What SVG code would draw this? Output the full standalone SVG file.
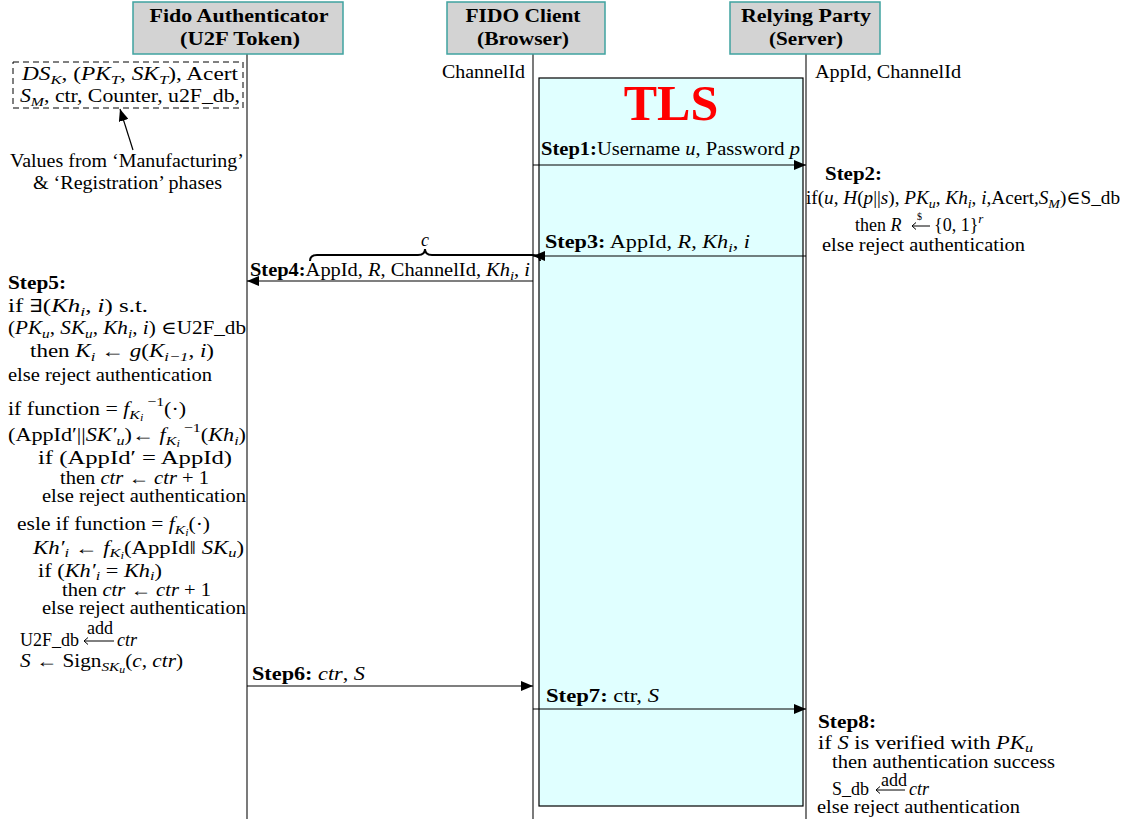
<svg xmlns="http://www.w3.org/2000/svg" width="1129" height="819" viewBox="0 0 1129 819">
<style>
.t{font-family:"Liberation Serif","DejaVu Serif",serif;font-size:18px;fill:#000}
.b{font-weight:bold}
.i{font-style:italic}
.s{font-size:13px}
.ss{font-size:10px}
.hd{font-family:"Liberation Serif","DejaVu Serif",serif;font-size:18px;font-weight:bold;text-anchor:middle}
.hbox{fill:#d3d3d3;stroke:#3fa3a0;stroke-width:1.5}
.life{stroke:#222;stroke-width:1.2}
.msg{stroke:#000;stroke-width:1.2;fill:none}
.la{stroke:#000;stroke-width:1;fill:none}
</style>
<defs>
<marker id="ah" viewBox="0 0 12 10" refX="12" refY="5" markerWidth="12" markerHeight="10" markerUnits="userSpaceOnUse" orient="auto">
<path d="M0,0 L12,5 L0,10 z" fill="#000"/>
</marker>
</defs>
<rect width="1129" height="819" fill="#fff"/>

<g id="tls">
<rect x="539" y="78" width="264" height="728" fill="#e0ffff" stroke="#000" stroke-width="1.2"/>
<text x="671" y="120" font-family="Liberation Serif, serif" font-size="50" font-weight="bold" fill="#ff0000" text-anchor="middle">TLS</text>
</g>

<g id="lifelines">
<line class="life" x1="247" y1="54" x2="247" y2="819"/>
<line class="life" x1="533" y1="54" x2="533" y2="819"/>
<line class="life" x1="806" y1="54" x2="806" y2="819"/>
</g>

<g id="authenticator">
<rect class="hbox" x="133" y="2" width="210" height="52"/>
<text class="hd" x="239" y="22" textLength="179" lengthAdjust="spacingAndGlyphs">Fido Authenticator</text>
<text class="hd" x="240" y="45" textLength="120" lengthAdjust="spacingAndGlyphs">(U2F Token)</text>
</g>
<g id="client">
<rect class="hbox" x="447" y="2" width="158" height="52"/>
<text class="hd" x="523" y="22" textLength="115" lengthAdjust="spacingAndGlyphs">FIDO Client</text>
<text class="hd" x="523" y="45" textLength="92" lengthAdjust="spacingAndGlyphs">(Browser)</text>
</g>
<g id="server">
<rect class="hbox" x="730" y="2" width="150" height="52"/>
<text class="hd" x="806" y="22" textLength="130" lengthAdjust="spacingAndGlyphs">Relying Party</text>
<text class="hd" x="806" y="45" textLength="74" lengthAdjust="spacingAndGlyphs">(Server)</text>
</g>

<g id="state-labels">
<text class="t" x="442" y="78" textLength="83" lengthAdjust="spacingAndGlyphs">ChannelId</text>
<text class="t" x="815" y="78" textLength="146" lengthAdjust="spacingAndGlyphs">AppId, ChannelId</text>
</g>

<g id="values-box">
<rect x="13" y="62" width="230" height="46" fill="none" stroke="#000" stroke-width="1" stroke-dasharray="6,4"/>
<text class="t" x="22" y="80" textLength="216" lengthAdjust="spacingAndGlyphs"><tspan class="i">DS</tspan><tspan class="s i" dy="4">K</tspan><tspan dy="-4">, (</tspan><tspan class="i">PK</tspan><tspan class="s i" dy="4">T</tspan><tspan dy="-4">, </tspan><tspan class="i">SK</tspan><tspan class="s i" dy="4">T</tspan><tspan dy="-4">), Acert</tspan></text>
<text class="t" x="20" y="102" textLength="220" lengthAdjust="spacingAndGlyphs"><tspan class="i">S</tspan><tspan class="s i" dy="4">M</tspan><tspan dy="-4">, ctr, Counter, u2F_db,</tspan></text>
<text class="t" x="10" y="167" textLength="234" lengthAdjust="spacingAndGlyphs">Values from ‘Manufacturing’</text>
<text class="t" x="33" y="189" textLength="189" lengthAdjust="spacingAndGlyphs">&amp; ‘Registration’ phases</text>
</g>

<g id="connectors">
<line class="msg" x1="133" y1="150" x2="120" y2="109" marker-end="url(#ah)"/>
<line class="msg" x1="533" y1="165" x2="806" y2="165" marker-end="url(#ah)"/>
<line class="msg" x1="806" y1="256" x2="533" y2="256" marker-end="url(#ah)"/>
<line class="msg" x1="533" y1="281" x2="247" y2="281" marker-end="url(#ah)"/>
<line class="msg" x1="247" y1="686" x2="533" y2="686" marker-end="url(#ah)"/>
<line class="msg" x1="533" y1="709" x2="806" y2="709" marker-end="url(#ah)"/>
<path d="M310,261 q0,-6 7,-6 h101 q7,0 7,-6 q0,6 7,6 h101 q7,0 7,6" fill="none" stroke="#000" stroke-width="2"/>
</g>

<g id="step1">
<text class="t" x="541" y="155" textLength="259" lengthAdjust="spacingAndGlyphs"><tspan class="b">Step1:</tspan>Username <tspan class="i">u</tspan>, Password <tspan class="i">p</tspan></text>
</g>

<g id="step2">
<text class="t b" x="825" y="180" textLength="57" lengthAdjust="spacingAndGlyphs">Step2:</text>
<text class="t" x="806" y="204" textLength="314" lengthAdjust="spacingAndGlyphs">if(<tspan class="i">u</tspan>, <tspan class="i">H</tspan>(<tspan class="i">p</tspan>||<tspan class="i">s</tspan>), <tspan class="i">PK</tspan><tspan class="s i" dy="4">u</tspan><tspan dy="-4">, </tspan><tspan class="i">Kh</tspan><tspan class="s i" dy="4">i</tspan><tspan dy="-4">, </tspan><tspan class="i">i</tspan>,Acert,<tspan class="i">S</tspan><tspan class="s i" dy="4">M</tspan><tspan dy="-4">)∈S_db</tspan></text>
<text class="t" x="855" y="231">then <tspan class="i">R</tspan></text>
<path class="la" d="M912,226 H930 M916,222.5 L912,226 L916,229.5"/>
<text class="t ss" x="917" y="220">$</text>
<text class="t" x="934" y="231">{0, 1}<tspan class="s i" dy="-8">r</tspan></text>
<text class="t" x="822" y="251" textLength="203" lengthAdjust="spacingAndGlyphs">else reject authentication</text>
</g>

<g id="step3">
<text class="t" x="545" y="248" textLength="205" lengthAdjust="spacingAndGlyphs"><tspan class="b">Step3:</tspan> AppId, <tspan class="i">R</tspan>, <tspan class="i">Kh</tspan><tspan class="s i" dy="4">i</tspan><tspan dy="-4">, </tspan><tspan class="i">i</tspan></text>
</g>

<g id="step4">
<text class="t i" x="421" y="246">c</text>
<text class="t" x="250" y="276" textLength="280" lengthAdjust="spacingAndGlyphs"><tspan class="b">Step4:</tspan>AppId, <tspan class="i">R</tspan>, ChannelId, <tspan class="i">Kh</tspan><tspan class="s i" dy="4">i</tspan><tspan dy="-4">, </tspan><tspan class="i">i</tspan></text>
</g>

<g id="step5">
<text class="t b" x="8" y="289" textLength="58" lengthAdjust="spacingAndGlyphs">Step5:</text>
<text class="t" x="8" y="312" textLength="140" lengthAdjust="spacingAndGlyphs">if ∃(<tspan class="i">Kh</tspan><tspan class="s i" dy="4">i</tspan><tspan dy="-4">, </tspan><tspan class="i">i</tspan>) s.t.</text>
<text class="t" x="8" y="334" textLength="238" lengthAdjust="spacingAndGlyphs">(<tspan class="i">PK</tspan><tspan class="s i" dy="4">u</tspan><tspan dy="-4">, </tspan><tspan class="i">SK</tspan><tspan class="s i" dy="4">u</tspan><tspan dy="-4">, </tspan><tspan class="i">Kh</tspan><tspan class="s i" dy="4">i</tspan><tspan dy="-4">, </tspan><tspan class="i">i</tspan>) ∈U2F_db</text>
<text class="t" x="30" y="357" textLength="184" lengthAdjust="spacingAndGlyphs">then <tspan class="i">K</tspan><tspan class="s i" dy="4">i</tspan><tspan dy="-4"> ← </tspan><tspan class="i">g</tspan>(<tspan class="i">K</tspan><tspan class="s i" dy="4">i−1</tspan><tspan dy="-4">, </tspan><tspan class="i">i</tspan>)</text>
<text class="t" x="8" y="381" textLength="204" lengthAdjust="spacingAndGlyphs">else reject authentication</text>

<text class="t" x="8" y="415" textLength="178" lengthAdjust="spacingAndGlyphs">if function = <tspan class="i">f</tspan><tspan class="s i" dy="4">K</tspan><tspan class="i ss" dy="2">i</tspan><tspan class="s" dy="-15"> −1</tspan><tspan dy="9">(·)</tspan></text>
<text class="t" x="8" y="441" textLength="238" lengthAdjust="spacingAndGlyphs">(AppId′||<tspan class="i">SK′</tspan><tspan class="s i" dy="4">u</tspan><tspan dy="-4">)← </tspan><tspan class="i">f</tspan><tspan class="s i" dy="4">K</tspan><tspan class="i ss" dy="2">i</tspan><tspan class="s" dy="-15"> −1</tspan><tspan dy="9">(</tspan><tspan class="i">Kh</tspan><tspan class="s i" dy="4">i</tspan><tspan dy="-4">)</tspan></text>
<text class="t" x="38" y="464" textLength="194" lengthAdjust="spacingAndGlyphs">if (AppId′ = AppId)</text>
<text class="t" x="60" y="484" textLength="149" lengthAdjust="spacingAndGlyphs">then <tspan class="i">ctr</tspan> ← <tspan class="i">ctr</tspan> + 1</text>
<text class="t" x="42" y="502" textLength="204" lengthAdjust="spacingAndGlyphs">else reject authentication</text>

<text class="t" x="17" y="530" textLength="193" lengthAdjust="spacingAndGlyphs">esle if function = <tspan class="i">f</tspan><tspan class="s i" dy="4">K</tspan><tspan class="i ss" dy="2">i</tspan><tspan dy="-6">(·)</tspan></text>
<text class="t" x="33" y="554" textLength="211" lengthAdjust="spacingAndGlyphs"><tspan class="i">Kh′</tspan><tspan class="s i" dy="3">i</tspan><tspan dy="-3"> ← </tspan><tspan class="i">f</tspan><tspan class="s i" dy="3">K</tspan><tspan class="i ss" dy="2">i</tspan><tspan dy="-5">(AppId‖ </tspan><tspan class="i">SK</tspan><tspan class="s i" dy="3">u</tspan><tspan dy="-3">)</tspan></text>
<text class="t" x="38" y="577" textLength="124" lengthAdjust="spacingAndGlyphs">if (<tspan class="i">Kh′</tspan><tspan class="s i" dy="3">i</tspan><tspan dy="-3"> = </tspan><tspan class="i">Kh</tspan><tspan class="s i" dy="3">i</tspan><tspan dy="-3">)</tspan></text>
<text class="t" x="62" y="596" textLength="149" lengthAdjust="spacingAndGlyphs">then <tspan class="i">ctr</tspan> ← <tspan class="i">ctr</tspan> + 1</text>
<text class="t" x="42" y="614" textLength="204" lengthAdjust="spacingAndGlyphs">else reject authentication</text>

<text class="t" x="20" y="646">U2F_db</text>
<path class="la" d="M84,641 H114 M88,637.5 L84,641 L88,644.5"/>
<text class="t" x="87" y="634" font-size="14">add</text>
<text class="t i" x="117" y="646">ctr</text>
<text class="t" x="20" y="667" textLength="163" lengthAdjust="spacingAndGlyphs"><tspan class="i">S</tspan> ← Sign<tspan class="s i" dy="4">SK</tspan><tspan class="i ss" dy="2">u</tspan><tspan dy="-6">(</tspan><tspan class="i">c</tspan>, <tspan class="i">ctr</tspan>)</text>
</g>

<g id="step6">
<text class="t" x="252" y="680" textLength="113" lengthAdjust="spacingAndGlyphs"><tspan class="b">Step6:</tspan> <tspan class="i">ctr</tspan>, <tspan class="i">S</tspan></text>
</g>

<g id="step7">
<text class="t" x="546" y="702" textLength="113" lengthAdjust="spacingAndGlyphs"><tspan class="b">Step7:</tspan> ctr, <tspan class="i">S</tspan></text>
</g>

<g id="step8">
<text class="t b" x="818" y="728" textLength="58" lengthAdjust="spacingAndGlyphs">Step8:</text>
<text class="t" x="818" y="749" textLength="215" lengthAdjust="spacingAndGlyphs">if <tspan class="i">S</tspan> is verified with <tspan class="i">PK</tspan><tspan class="s i" dy="3">u</tspan></text>
<text class="t" x="832" y="768" textLength="223" lengthAdjust="spacingAndGlyphs">then authentication success</text>
<text class="t" x="832" y="795">S_db</text>
<path class="la" d="M876,790 H905 M880,786.5 L876,790 L880,793.5"/>
<text class="t" x="881" y="786" font-size="12">add</text>
<text class="t i" x="909" y="795">ctr</text>
<text class="t" x="817" y="813" textLength="203" lengthAdjust="spacingAndGlyphs">else reject authentication</text>
</g>
</svg>
